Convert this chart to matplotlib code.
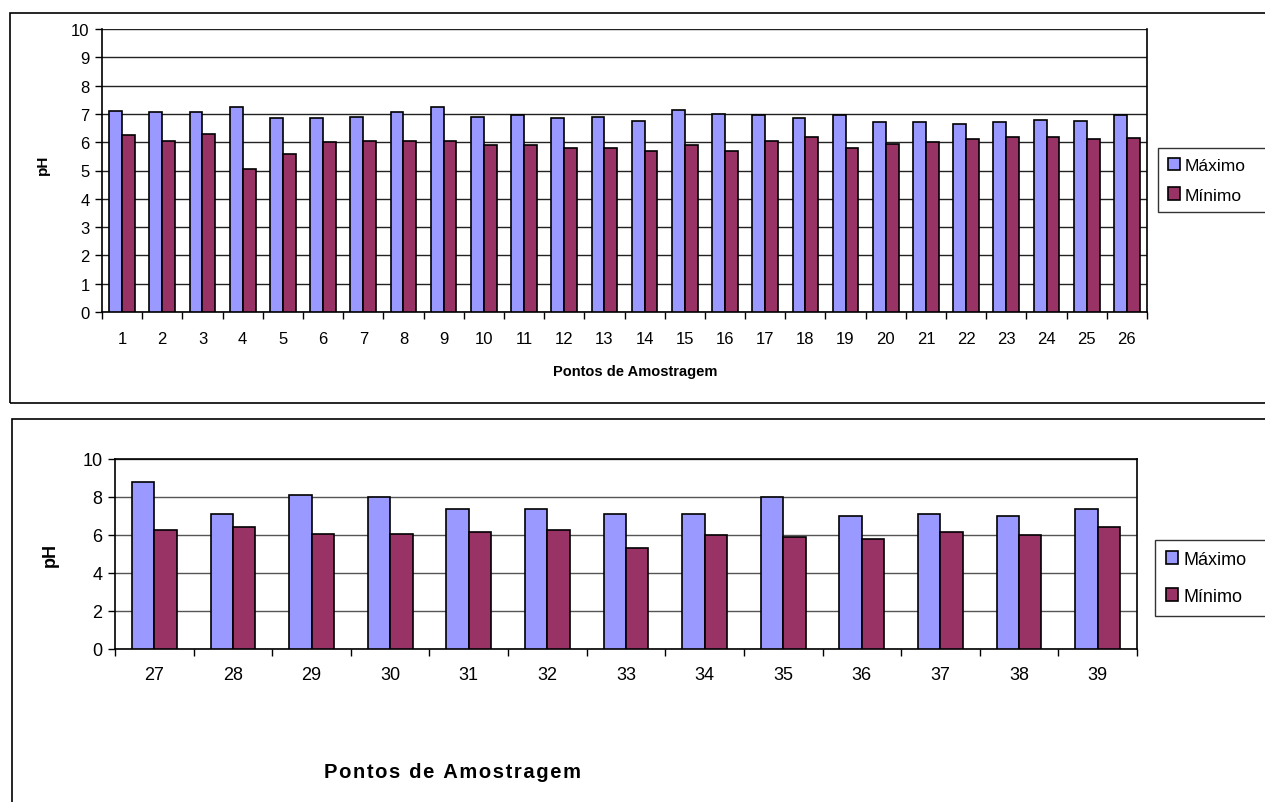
import matplotlib
matplotlib.use("Agg")
import matplotlib.pyplot as plt
from matplotlib.patches import Rectangle
import numpy as np

plt.rcParams['font.family'] = ['Liberation Sans', 'DejaVu Sans']

# dados - pontos 1 a 26
pontos_a = [str(i) for i in range(1, 27)]
maximo_a = [7.1, 7.05, 7.05, 7.25, 6.85, 6.85, 6.9, 7.05, 7.25, 6.9, 6.95, 6.85, 6.9,
            6.75, 7.15, 7.0, 6.95, 6.85, 6.95, 6.7, 6.7, 6.65, 6.7, 6.8, 6.75, 6.95]
minimo_a = [6.25, 6.05, 6.3, 5.05, 5.6, 6.0, 6.05, 6.05, 6.05, 5.9, 5.9, 5.8, 5.8,
            5.7, 5.9, 5.7, 6.05, 6.2, 5.8, 5.95, 6.0, 6.1, 6.2, 6.2, 6.1, 6.15]

# dados - pontos 27 a 39
pontos_b = [str(i) for i in range(27, 40)]
maximo_b = [8.8, 7.1, 8.1, 8.0, 7.35, 7.35, 7.1, 7.1, 8.0, 7.0, 7.1, 7.0, 7.35]
minimo_b = [6.25, 6.4, 6.05, 6.05, 6.15, 6.25, 5.3, 6.0, 5.9, 5.8, 6.15, 6.0, 6.4]

cor_max = '#9999FF'
cor_min = '#993366'

W, H = 1265, 803
fig = plt.figure(figsize=(W / 100, H / 100), dpi=100)


def px_box(l, t, r, b):
    return [l / W, 1 - b / H, (r - l) / W, (b - t) / H]


def frame(l, t, r, b):
    fig.patches.append(Rectangle((l / W, 1 - b / H), (r - l) / W, (b - t) / H,
                                 transform=fig.transFigure, fill=False,
                                 edgecolor='black', lw=1.2))


def draw(ax, pontos, maximo, minimo, width, step, fs, gridcolor):
    x = np.arange(len(pontos))
    ax.bar(x - width / 2, maximo, width, color=cor_max, edgecolor='black', lw=1.2,
           label='Máximo', zorder=3)
    ax.bar(x + width / 2, minimo, width, color=cor_min, edgecolor='black', lw=1.2,
           label='Mínimo', zorder=3)
    ax.set_xlim(-0.5, len(pontos) - 0.5)
    ax.set_ylim(0, 10)
    ax.set_yticks(np.arange(0, 10.1, step))
    ax.yaxis.grid(True, color=gridcolor, lw=1)
    ax.set_axisbelow(True)
    ax.set_xticks(x)
    ax.set_xticklabels(pontos)
    ax.set_xticks(np.arange(-0.5, len(pontos)), minor=True)
    ax.tick_params(axis='x', which='major', length=0, labelsize=fs, pad=14)
    ax.tick_params(axis='x', which='minor', length=5, direction='out', width=1)
    ax.tick_params(axis='y', length=5, direction='out', width=1, labelsize=fs, pad=4)
    for s in ax.spines.values():
        s.set_linewidth(1.2)


def legenda(ax, l, t, r, b, fs, sp, bp):
    fig.legend(*ax.get_legend_handles_labels(), loc='upper left',
               bbox_to_anchor=(l / W, 1 - b / H, (r - l) / W, (b - t) / H),
               mode='expand', fontsize=fs, frameon=True, fancybox=False,
               edgecolor='black', handlelength=0.7, handleheight=0.7,
               handletextpad=0.3, labelspacing=sp, borderpad=bp, borderaxespad=0)


# grafico superior
frame(10, 14, 1290, 404)
ax1 = fig.add_axes(px_box(102, 30, 1147, 313))
draw(ax1, pontos_a, maximo_a, minimo_a, 0.32, 1, 12, '#222222')
ax1.spines['top'].set_visible(False)
fig.text(635 / W, 1 - 372 / H, 'Pontos de Amostragem', ha='center', va='center',
         fontsize=10.5, fontweight='bold')
fig.text(43 / W, 1 - 165 / H, 'pH', ha='center', va='center', rotation=90,
         fontsize=11, fontweight='bold')
legenda(ax1, 1158, 149, 1280, 212, 12.5, 0.85, 0.55)

# grafico inferior
frame(12, 420, 1290, 820)
ax2 = fig.add_axes(px_box(115, 460, 1137, 650))
draw(ax2, pontos_b, maximo_b, minimo_b, 0.285, 2, 13, '#555555')
ax2.tick_params(axis='x', which='major', pad=12)
fig.text(452 / W, 1 - 773 / H, '\u200a'.join('Pontos de Amostragem'),
         ha='center', va='center', fontsize=14.5, fontweight='bold')
fig.text(50 / W, 1 - 555 / H, 'pH', ha='center', va='center', rotation=90,
         fontsize=13, fontweight='bold')
legenda(ax2, 1155, 541, 1280, 617, 13, 1.1, 0.6)

fig.savefig('out.png', dpi=100)
